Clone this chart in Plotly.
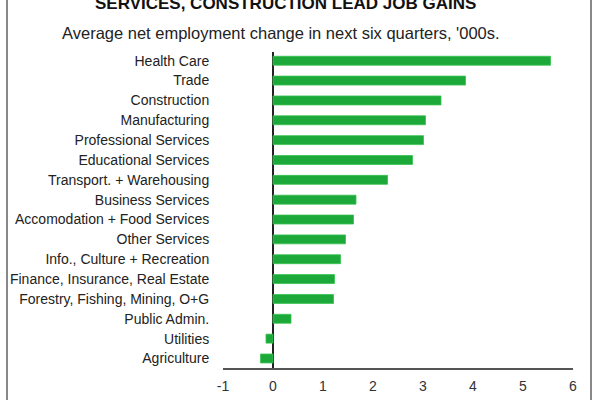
import plotly.graph_objects as go

categories = ["Health Care", "Trade", "Construction", "Manufacturing",
              "Professional Services", "Educational Services",
              "Transport. + Warehousing", "Business Services",
              "Accomodation + Food Services", "Other Services",
              "Info., Culture + Recreation", "Finance, Insurance, Real Estate",
              "Forestry, Fishing, Mining, O+G", "Public Admin.", "Utilities",
              "Agriculture"]
values = [5.55, 3.85, 3.36, 3.05, 3.01, 2.79, 2.29, 1.66, 1.61, 1.45,
          1.35, 1.23, 1.21, 0.36, -0.14, -0.25]
x_ticks = [-1, 0, 1, 2, 3, 4, 5, 6]
x_tick_labels = ["-1", "0", "1", "2", "3", "4", "5", "6"]

title_text = "SERVICES, CONSTRUCTION LEAD JOB GAINS"
subtitle_text = "Average net employment change in next six quarters, '000s."

FONT = "Liberation Sans, Arial, sans-serif"

fig = go.Figure(go.Bar(
    x=values, y=categories, orientation="h",
    marker=dict(color="#1ca93a", line=dict(color="#35c24e", width=0.8)),
    width=0.45,
))

L, R, T, B = 223, 27, 52, 32
W, H = 600, 400

fig.update_layout(
    width=W, height=H,
    margin=dict(l=L, r=R, t=T, b=B, autoexpand=False),
    paper_bgcolor="white", plot_bgcolor="white",
    showlegend=False,
    font=dict(family=FONT, color="#222222", size=14),
    xaxis=dict(range=[-1, 6], tickvals=x_ticks, ticktext=x_tick_labels,
               showgrid=False, automargin=False,
               zeroline=True, zerolinecolor="#222222", zerolinewidth=1.5,
               showline=True, linecolor="#555555", linewidth=1.5,
               ticks="outside", ticklen=4, tickcolor="rgba(0,0,0,0)",
               tickfont=dict(size=14, color="#333333")),
    yaxis=dict(categoryorder="array", categoryarray=categories,
               range=[15.48, -0.44], showgrid=False, zeroline=False,
               showline=False, ticks="outside", ticklen=10, automargin=False,
               tickcolor="rgba(0,0,0,0)",
               tickfont=dict(size=14, color="#222222")),
)

pw = W - L - R
ph = H - T - B
def px_x(p):
    return (p - L) / pw
def px_y(p):
    return (H - B - p) / ph

fig.add_annotation(text="<b>" + title_text + "</b>", xref="paper", yref="paper",
                   x=px_x(285), y=px_y(3), xanchor="center", yanchor="middle",
                   showarrow=False, font=dict(size=17, color="#111111", family=FONT))
fig.add_annotation(text=subtitle_text, xref="paper", yref="paper",
                   x=px_x(281), y=px_y(33), xanchor="center", yanchor="middle",
                   showarrow=False, font=dict(size=16.5, color="#222222", family=FONT))

for xp in (7, 591):
    fig.add_shape(type="line", xref="paper", yref="paper",
                  x0=px_x(xp), x1=px_x(xp), y0=px_y(-5), y1=px_y(405),
                  line=dict(color="#888888", width=2))

fig.write_html("out.html", config={"displayModeBar": False},
               post_script="document.body.style.margin='0';document.body.style.overflow='hidden';")
